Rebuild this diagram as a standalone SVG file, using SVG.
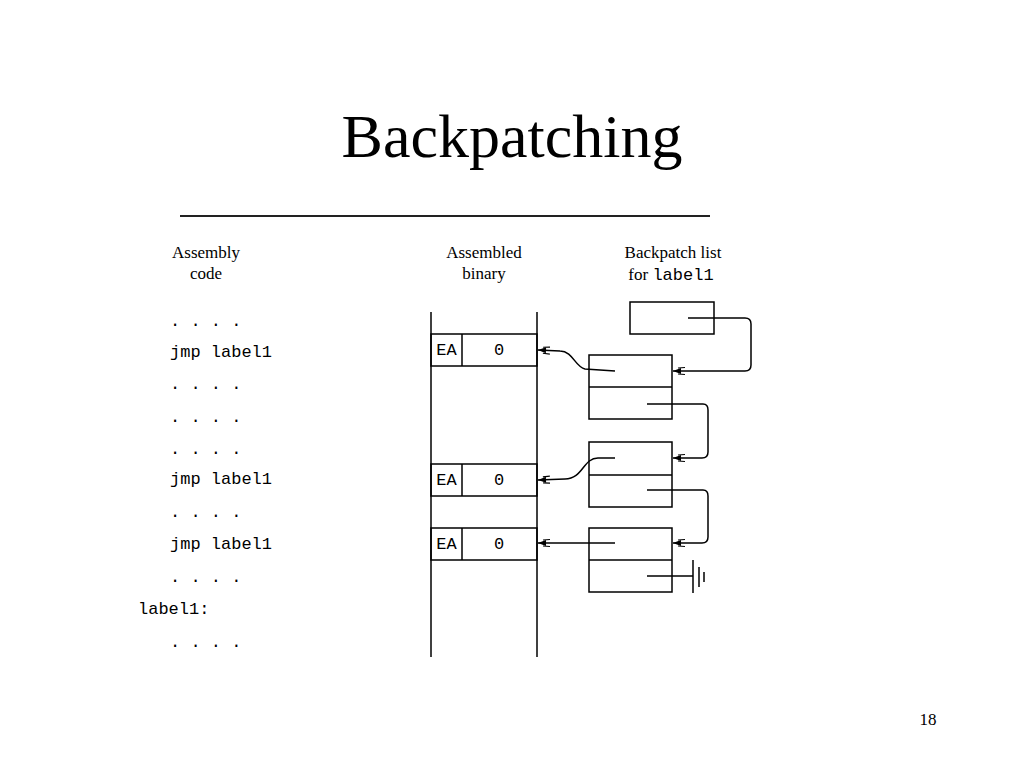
<svg xmlns="http://www.w3.org/2000/svg" width="1024" height="768" viewBox="0 0 1024 768">
<style>
.ser{font-family:"Liberation Serif","Times New Roman",serif;fill:#000}
.mono{font-family:"Liberation Mono","Courier New",monospace;fill:#000;font-size:17px}
.box{fill:none;stroke:#000;stroke-width:1.5}
.ln{fill:none;stroke:#000;stroke-width:1.5}
.ptr{fill:none;stroke:#000;stroke-width:1.5;marker-end:url(#ah)}
</style>
<defs>
<marker id="ah" markerWidth="16" markerHeight="12" refX="12" refY="6" orient="auto" markerUnits="userSpaceOnUse">
<path d="M12,6 L4,3 L4,9 Z" fill="#000"/>
<path d="M7,3 L0,2.5 M7,9 L0,9.5" stroke="#000" stroke-width="1.2" fill="none"/>
</marker>
</defs>
<rect width="1024" height="768" fill="#fff"/>
<text class="ser" x="512" y="157" font-size="62" text-anchor="middle">Backpatching</text>
<line x1="180" y1="216" x2="710" y2="216" stroke="#222" stroke-width="2"/>
<text class="ser" x="928" y="725" font-size="17" text-anchor="middle">18</text>

<g id="header-assembly" class="ser" font-size="17" text-anchor="middle">
<text x="206" y="258">Assembly</text>
<text x="206" y="279">code</text>
</g>
<g id="header-binary" class="ser" font-size="17" text-anchor="middle">
<text x="484" y="258">Assembled</text>
<text x="484" y="279">binary</text>
</g>
<g id="header-backpatch" text-anchor="middle">
<text class="ser" x="673" y="258" font-size="17">Backpatch list</text>
<text x="671" y="280" font-size="17"><tspan class="ser">for </tspan><tspan class="mono">label1</tspan></text>
</g>

<g id="assembly-code" class="mono">
<text x="170" y="326">. . . .</text>
<text x="170" y="357">jmp label1</text>
<text x="170" y="389">. . . .</text>
<text x="170" y="422">. . . .</text>
<text x="170" y="454">. . . .</text>
<text x="170" y="484">jmp label1</text>
<text x="170" y="517">. . . .</text>
<text x="170" y="549">jmp label1</text>
<text x="170" y="582">. . . .</text>
<text x="138" y="614">label1:</text>
<text x="170" y="647">. . . .</text>
</g>

<g id="binary-column">
<line class="ln" x1="431" y1="312" x2="431" y2="657"/>
<line class="ln" x1="537" y1="312" x2="537" y2="657"/>
</g>
<g id="row1">
<rect class="box" x="431" y="334" width="106" height="32"/>
<line class="ln" x1="462" y1="334" x2="462" y2="366"/>
<text class="mono" x="446.5" y="355" text-anchor="middle" font-size="15">EA</text>
<text class="mono" x="499" y="355" text-anchor="middle" font-size="15">0</text>
</g>
<g id="row2">
<rect class="box" x="431" y="464" width="106" height="32"/>
<line class="ln" x1="462" y1="464" x2="462" y2="496"/>
<text class="mono" x="446.5" y="485" text-anchor="middle" font-size="15">EA</text>
<text class="mono" x="499" y="485" text-anchor="middle" font-size="15">0</text>
</g>
<g id="row3">
<rect class="box" x="431" y="528" width="106" height="32"/>
<line class="ln" x1="462" y1="528" x2="462" y2="560"/>
<text class="mono" x="446.5" y="549" text-anchor="middle" font-size="15">EA</text>
<text class="mono" x="499" y="549" text-anchor="middle" font-size="15">0</text>
</g>

<g id="list-head">
<rect class="box" x="630" y="302" width="84" height="32"/>
</g>
<g id="node1">
<rect class="box" x="589" y="355" width="83" height="64"/>
<line class="ln" x1="589" y1="387" x2="672" y2="387"/>
</g>
<g id="node2">
<rect class="box" x="589" y="442" width="83" height="65"/>
<line class="ln" x1="589" y1="475" x2="672" y2="475"/>
</g>
<g id="node3">
<rect class="box" x="589" y="528" width="83" height="64"/>
<line class="ln" x1="589" y1="560" x2="672" y2="560"/>
</g>

<g id="connectors">
<path class="ptr" d="M688,318 L745,318 Q751,318 751,324 L751,365 Q751,371 745,371 L673,371"/>
<path class="ptr" d="M615,371 L585,369 C575,367 573,351 560,351 L538,350"/>
<path class="ptr" d="M647,404 L703,404 Q708,404 708,410 L708,452 Q708,458 702,458 L673,458"/>
<path class="ptr" d="M615,458 L598,458 C583,458 583,479 565,479 L538,480"/>
<path class="ptr" d="M647,490 L703,490 Q708,490 708,496 L708,537 Q708,543 702,543 L673,543"/>
<path class="ptr" d="M615,543 L538,543"/>
<path class="ln" d="M647,576 L693,576 M693,560 L693,593 M699,567 L699,587 M704,572 L704,582"/>
</g>
</svg>
